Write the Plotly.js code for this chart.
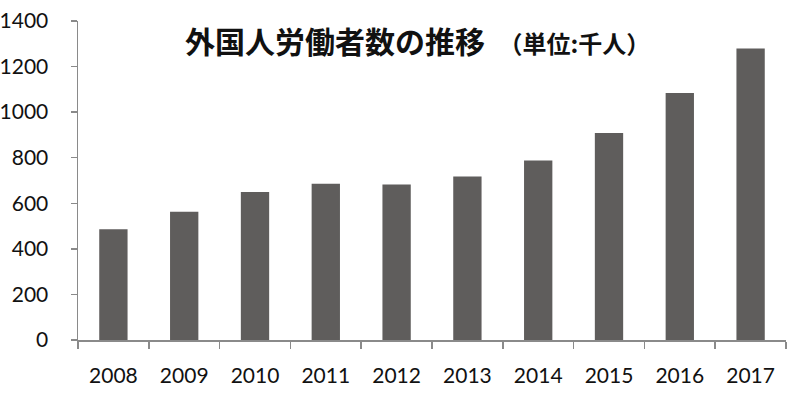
<!DOCTYPE html>
<html>
<head>
<meta charset="utf-8">
<script src="https://cdn.plot.ly/plotly-3.0.1.min.js"></script>
<style>html,body{margin:0;padding:0;background:#fff;}#chart{width:800px;height:399px;}</style>
</head>
<body>
<div id="chart"></div>
<script>
const years = ["2008","2009","2010","2011","2012","2013","2014","2015","2016","2017"];
const workers = [486, 563, 650, 686, 682, 718, 788, 908, 1084, 1279];
const yTicks = [0, 200, 400, 600, 800, 1000, 1200, 1400];
const titleMain = "外国人労働者数の推移";
const titleUnit = "（単位:千人）";

const trace = {
  type: "bar",
  x: years,
  y: workers,
  marker: {color: "#5f5d5c"},
  hoverinfo: "x+y"
};

const tickFont = {family: "Lato, 'Liberation Sans', sans-serif", size: 21, color: "#111111"};

const layout = {
  width: 800,
  height: 399,
  margin: {l: 78, r: 14, t: 21, b: 59},
  paper_bgcolor: "#ffffff",
  plot_bgcolor: "#ffffff",
  bargap: 0.6,
  showlegend: false,
  font: tickFont,
  title: {
    text: "<b>" + titleMain + "</b>&nbsp;&nbsp;<b><span style='font-size:24px'>" + titleUnit + "</span></b>",
    font: {family: "'Noto Sans CJK JP', sans-serif", size: 30, color: "#111111"},
    xref: "container", yref: "container",
    x: 185/800, xanchor: "left",
    y: 1 - 42/399, yanchor: "middle"
  },
  xaxis: {
    type: "category",
    showline: true, linecolor: "#8a8a8a", linewidth: 1.5,
    ticks: "outside", ticklen: 7, tickcolor: "#8a8a8a", tickwidth: 1.5,
    tickson: "boundaries",
    showgrid: false, zeroline: false,
    ticklabelstandoff: 16,
    tickfont: tickFont
  },
  yaxis: {
    range: [0, 1400],
    tickvals: yTicks,
    ticktext: yTicks.map(String),
    showline: true, linecolor: "#8a8a8a", linewidth: 1.5,
    ticks: "outside", ticklen: 6, tickcolor: "#8a8a8a", tickwidth: 1.5,
    showgrid: false, zeroline: false,
    ticklabelstandoff: 18,
    tickfont: tickFont
  }
};

Plotly.newPlot("chart", [trace], layout, {displayModeBar: false, staticPlot: true});
</script>
</body>
</html>
